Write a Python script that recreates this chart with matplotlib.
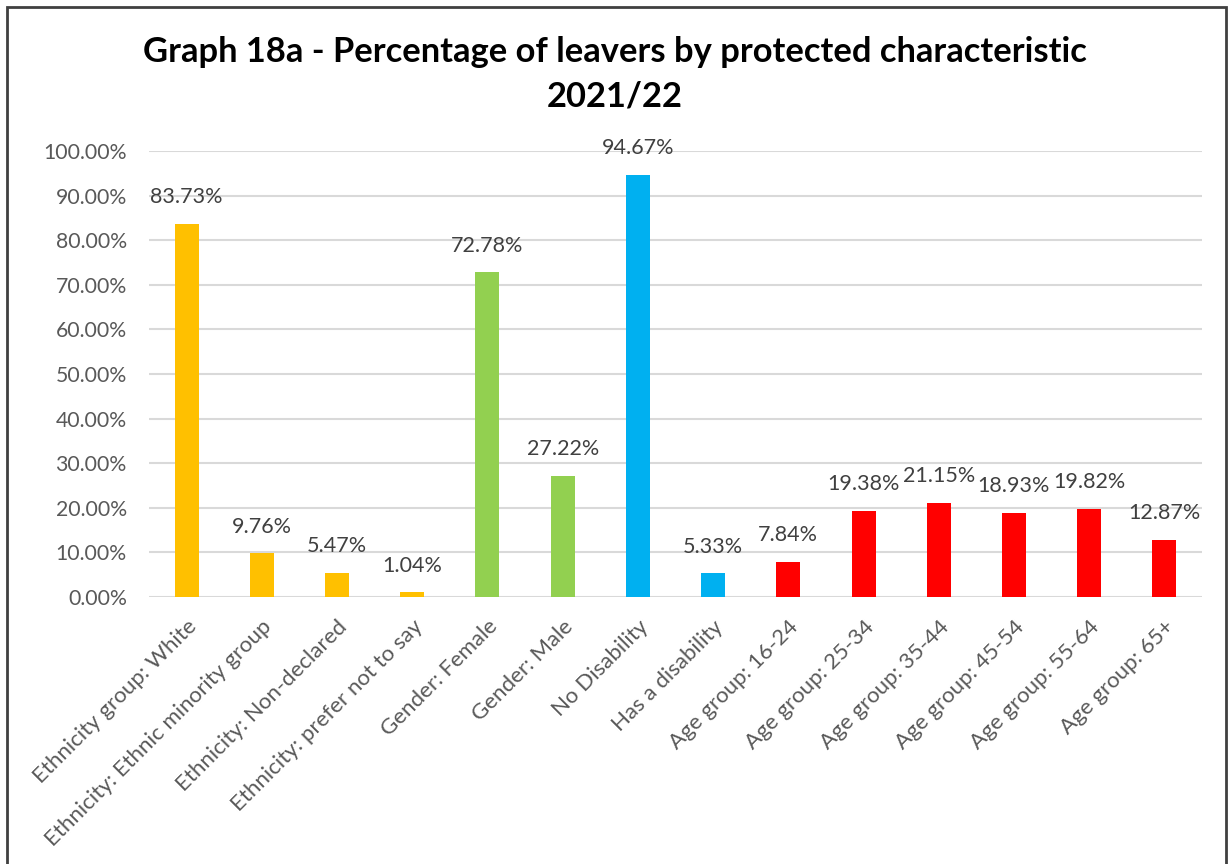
import matplotlib
matplotlib.use("Agg")
import matplotlib.pyplot as plt
from matplotlib.patches import Rectangle
from matplotlib.ticker import PercentFormatter

categories = [
    "Ethnicity group: White",
    "Ethnicity: Ethnic minority group",
    "Ethnicity: Non-declared",
    "Ethnicity: prefer not to say",
    "Gender: Female",
    "Gender: Male",
    "No Disability",
    "Has a disability",
    "Age group: 16-24",
    "Age group: 25-34",
    "Age group: 35-44",
    "Age group: 45-54",
    "Age group: 55-64",
    "Age group: 65+",
]
values = [83.73, 9.76, 5.47, 1.04, 72.78, 27.22, 94.67, 5.33,
          7.84, 19.38, 21.15, 18.93, 19.82, 12.87]
groups = ["eth"] * 4 + ["gen"] * 2 + ["dis"] * 2 + ["age"] * 6
group_colors = {"eth": "#FFC000", "gen": "#92D050", "dis": "#00B0F0", "age": "#FF0000"}
yticks = [0, 10, 20, 30, 40, 50, 60, 70, 80, 90, 100]

plt.rcParams["font.family"] = ["Lato", "DejaVu Sans"]
txt = "#595959"

fig = plt.figure(figsize=(12.3, 8.64), dpi=100)
ax = fig.add_axes([149 / 1230, 1 - 597 / 864, (1202 - 149) / 1230, (597 - 151) / 864])

x = list(range(len(categories)))
colors = [group_colors[g] for g in groups]
bars = ax.bar(x, values, width=0.32, color=colors, zorder=3)

ax.set_xlim(-0.5, len(categories) - 0.5)
ax.set_ylim(0, 100)
ax.set_yticks(yticks)
ax.yaxis.set_major_formatter(PercentFormatter(decimals=2))
ax.grid(axis="y", color="#D9D9D9", linewidth=1.5, zorder=0)
for s in ax.spines.values():
    s.set_visible(False)
ax.tick_params(axis="both", length=0, labelsize=15.3, colors=txt)
ax.tick_params(axis="y", pad=16)

ax.set_xticks(x)
ax.set_xticklabels(categories, rotation=45, ha="right", va="top",
                   rotation_mode="anchor", fontsize=16, color=txt)
ax.tick_params(axis="x", pad=14)

for b, v in zip(bars, values):
    ax.annotate(f"{v:.2f}%", (b.get_x() + b.get_width() / 2, v),
                xytext=(0, 12), textcoords="offset points",
                ha="center", va="bottom", fontsize=15.5, color="#404040")

fig.text(0.5, 1 - 52 / 864, "Graph 18a - Percentage of leavers by protected characteristic",
         ha="center", va="center", fontsize=24.8, fontweight="bold", color="black")
fig.text(0.5, 1 - 97 / 864, "2021/22",
         ha="center", va="center", fontsize=24.8, fontweight="bold", color="black")

# chart frame, open at the bottom edge
fig.patches.append(Rectangle((7 / 1230, -0.05), (1226 - 7) / 1230, 1.05 - 7 / 864,
                             transform=fig.transFigure, fill=False,
                             edgecolor="#404040", linewidth=2))

fig.savefig("out.png", dpi=100)
